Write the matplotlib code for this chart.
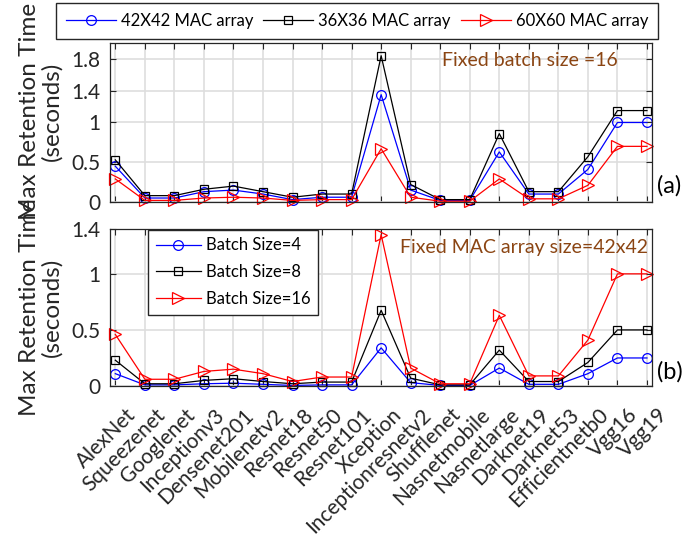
import matplotlib
matplotlib.use("Agg")
import matplotlib.pyplot as plt
from matplotlib.transforms import ScaledTranslation

plt.rcParams['font.family'] = ['Lato', 'DejaVu Sans']

networks = ["AlexNet", "Squeezenet", "Googlenet", "Inceptionv3", "Densenet201",
            "Mobilenetv2", "Resnet18", "Resnet50", "Resnet101", "Xception",
            "Inceptionresnetv2", "Shufflenet", "Nasnetmobile", "Nasnetlarge",
            "Darknet19", "Darknet53", "Efficientnetb0", "Vgg16", "Vgg19"]

# (a) batch size 16, varying MAC array size
mac42 = [0.45, 0.05, 0.05, 0.13, 0.15, 0.10, 0.03, 0.06, 0.06, 1.35, 0.15,
         0.02, 0.02, 0.63, 0.10, 0.10, 0.41, 1.00, 1.00]
mac36 = [0.53, 0.08, 0.08, 0.16, 0.20, 0.13, 0.06, 0.10, 0.10, 1.84, 0.22,
         0.03, 0.03, 0.86, 0.13, 0.13, 0.57, 1.15, 1.15]
mac60 = [0.29, 0.02, 0.02, 0.05, 0.06, 0.05, 0.02, 0.03, 0.03, 0.67, 0.06,
         0.01, 0.01, 0.29, 0.04, 0.04, 0.21, 0.70, 0.70]

# (b) 42x42 MAC array, varying batch size
batch4 = [0.11, 0.01, 0.01, 0.02, 0.025, 0.015, 0.005, 0.01, 0.01, 0.34, 0.03,
          0.005, 0.005, 0.16, 0.015, 0.015, 0.11, 0.25, 0.25]
batch8 = [0.23, 0.02, 0.02, 0.05, 0.065, 0.04, 0.02, 0.035, 0.035, 0.675, 0.07,
          0.01, 0.01, 0.32, 0.04, 0.04, 0.21, 0.50, 0.50]
batch16 = [0.46, 0.06, 0.06, 0.13, 0.15, 0.11, 0.04, 0.08, 0.08, 1.35, 0.16,
           0.02, 0.02, 0.63, 0.09, 0.09, 0.41, 1.00, 1.00]

yticks_a = [0, 0.5, 1, 1.4, 1.8]
yticks_b = [0, 0.5, 1, 1.4]

W, H = 686, 537
fig = plt.figure(figsize=(W / 100, H / 100), dpi=100)

def px_axes(left, top, right, bottom):
    return fig.add_axes([left / W, 1 - bottom / H, (right - left) / W, (bottom - top) / H])

ax_a = px_axes(110, 43, 652, 202)
ax_b = px_axes(110, 229, 652, 386)

x = list(range(len(networks)))
txt = '#262626'
common = dict(markerfacecolor='none', linewidth=0.9, clip_on=False, markeredgewidth=0.9)
sty_o = dict(color='blue', marker='o', markeredgecolor='blue', markersize=7, **common)
sty_s = dict(color='black', marker='s', markeredgecolor='black', markersize=5.5, **common)
sty_t = dict(color='red', marker='>', markeredgecolor='red', markersize=9, **common)

la1, = ax_a.plot(x, mac42, label='42X42 MAC array', **sty_o)
la2, = ax_a.plot(x, mac36, label='36X36 MAC array', **sty_s)
la3, = ax_a.plot(x, mac60, label='60X60 MAC array', **sty_t)

ax_b.plot(x, batch4, label='Batch Size=4', **sty_o)
ax_b.plot(x, batch8, label='Batch Size=8', **sty_s)
ax_b.plot(x, batch16, label='Batch Size=16', **sty_t)

for ax, yt, top, ly in ((ax_a, yticks_a, 2.0, 0.57), (ax_b, yticks_b, 1.4, 0.5)):
    ax.set_xlim(-0.18, 18.17)
    ax.set_ylim(0, top)
    ax.set_xticks(x)
    ax.set_yticks(yt)
    ax.set_yticklabels([f'{v:g}' for v in yt])
    ax.grid(True, color='#dedede', linewidth=1.2)
    ax.set_axisbelow(True)
    ax.tick_params(direction='in', top=True, right=True, length=4, width=0.8,
                   labelsize=15, colors=txt, labelcolor=txt, pad=7)
    for s in ax.spines.values():
        s.set_color('#262626')
        s.set_linewidth(0.9)
    ax.set_ylabel('Max Retention Time\n(seconds)', fontsize=17.5, color=txt,
                  linespacing=1.05, multialignment='center')
    ax.yaxis.set_label_coords(-0.087, ly)

ax_a.set_xticklabels([])
ax_b.set_xticklabels(networks, rotation=45, ha='right', va='top',
                     rotation_mode='anchor', fontsize=15)
shift = ScaledTranslation(0.10, -0.09, fig.dpi_scale_trans)
for lab in ax_b.get_xticklabels():
    lab.set_transform(lab.get_transform() + shift)

ax_a.text((618 - 110) / 542, (202 - 60) / 159, 'Fixed batch size =16',
          transform=ax_a.transAxes, ha='right', va='center', fontsize=14, color='#8B4513')
ax_b.text((648 - 110) / 542, (386 - 248) / 157, 'Fixed MAC array size=42x42',
          transform=ax_b.transAxes, ha='right', va='center', fontsize=14, color='#8B4513')

fig.text(657 / W, 1 - 186 / H, '(a)', ha='left', va='center', fontsize=17, color='black')
fig.text(657 / W, 1 - 372 / H, '(b)', ha='left', va='center', fontsize=17, color='black')

fig.legend(handles=[la1, la2, la3], loc='upper center', ncol=3,
           bbox_to_anchor=(357 / W, 1 - 3 / H), fontsize=12, frameon=True,
           fancybox=False, edgecolor='#262626', framealpha=1, handlelength=3.0,
           columnspacing=0.6, handletextpad=0.3, borderpad=0.6, borderaxespad=0)

ax_b.legend(loc='upper left', bbox_to_anchor=((148 - 110) / 542, (386 - 230) / 157),
            borderaxespad=0, fontsize=12, frameon=True, fancybox=False,
            edgecolor='#262626', framealpha=1, handlelength=2.7,
            handletextpad=0.3, borderpad=0.45, labelspacing=0.65)

fig.savefig('out.png', dpi=100)
